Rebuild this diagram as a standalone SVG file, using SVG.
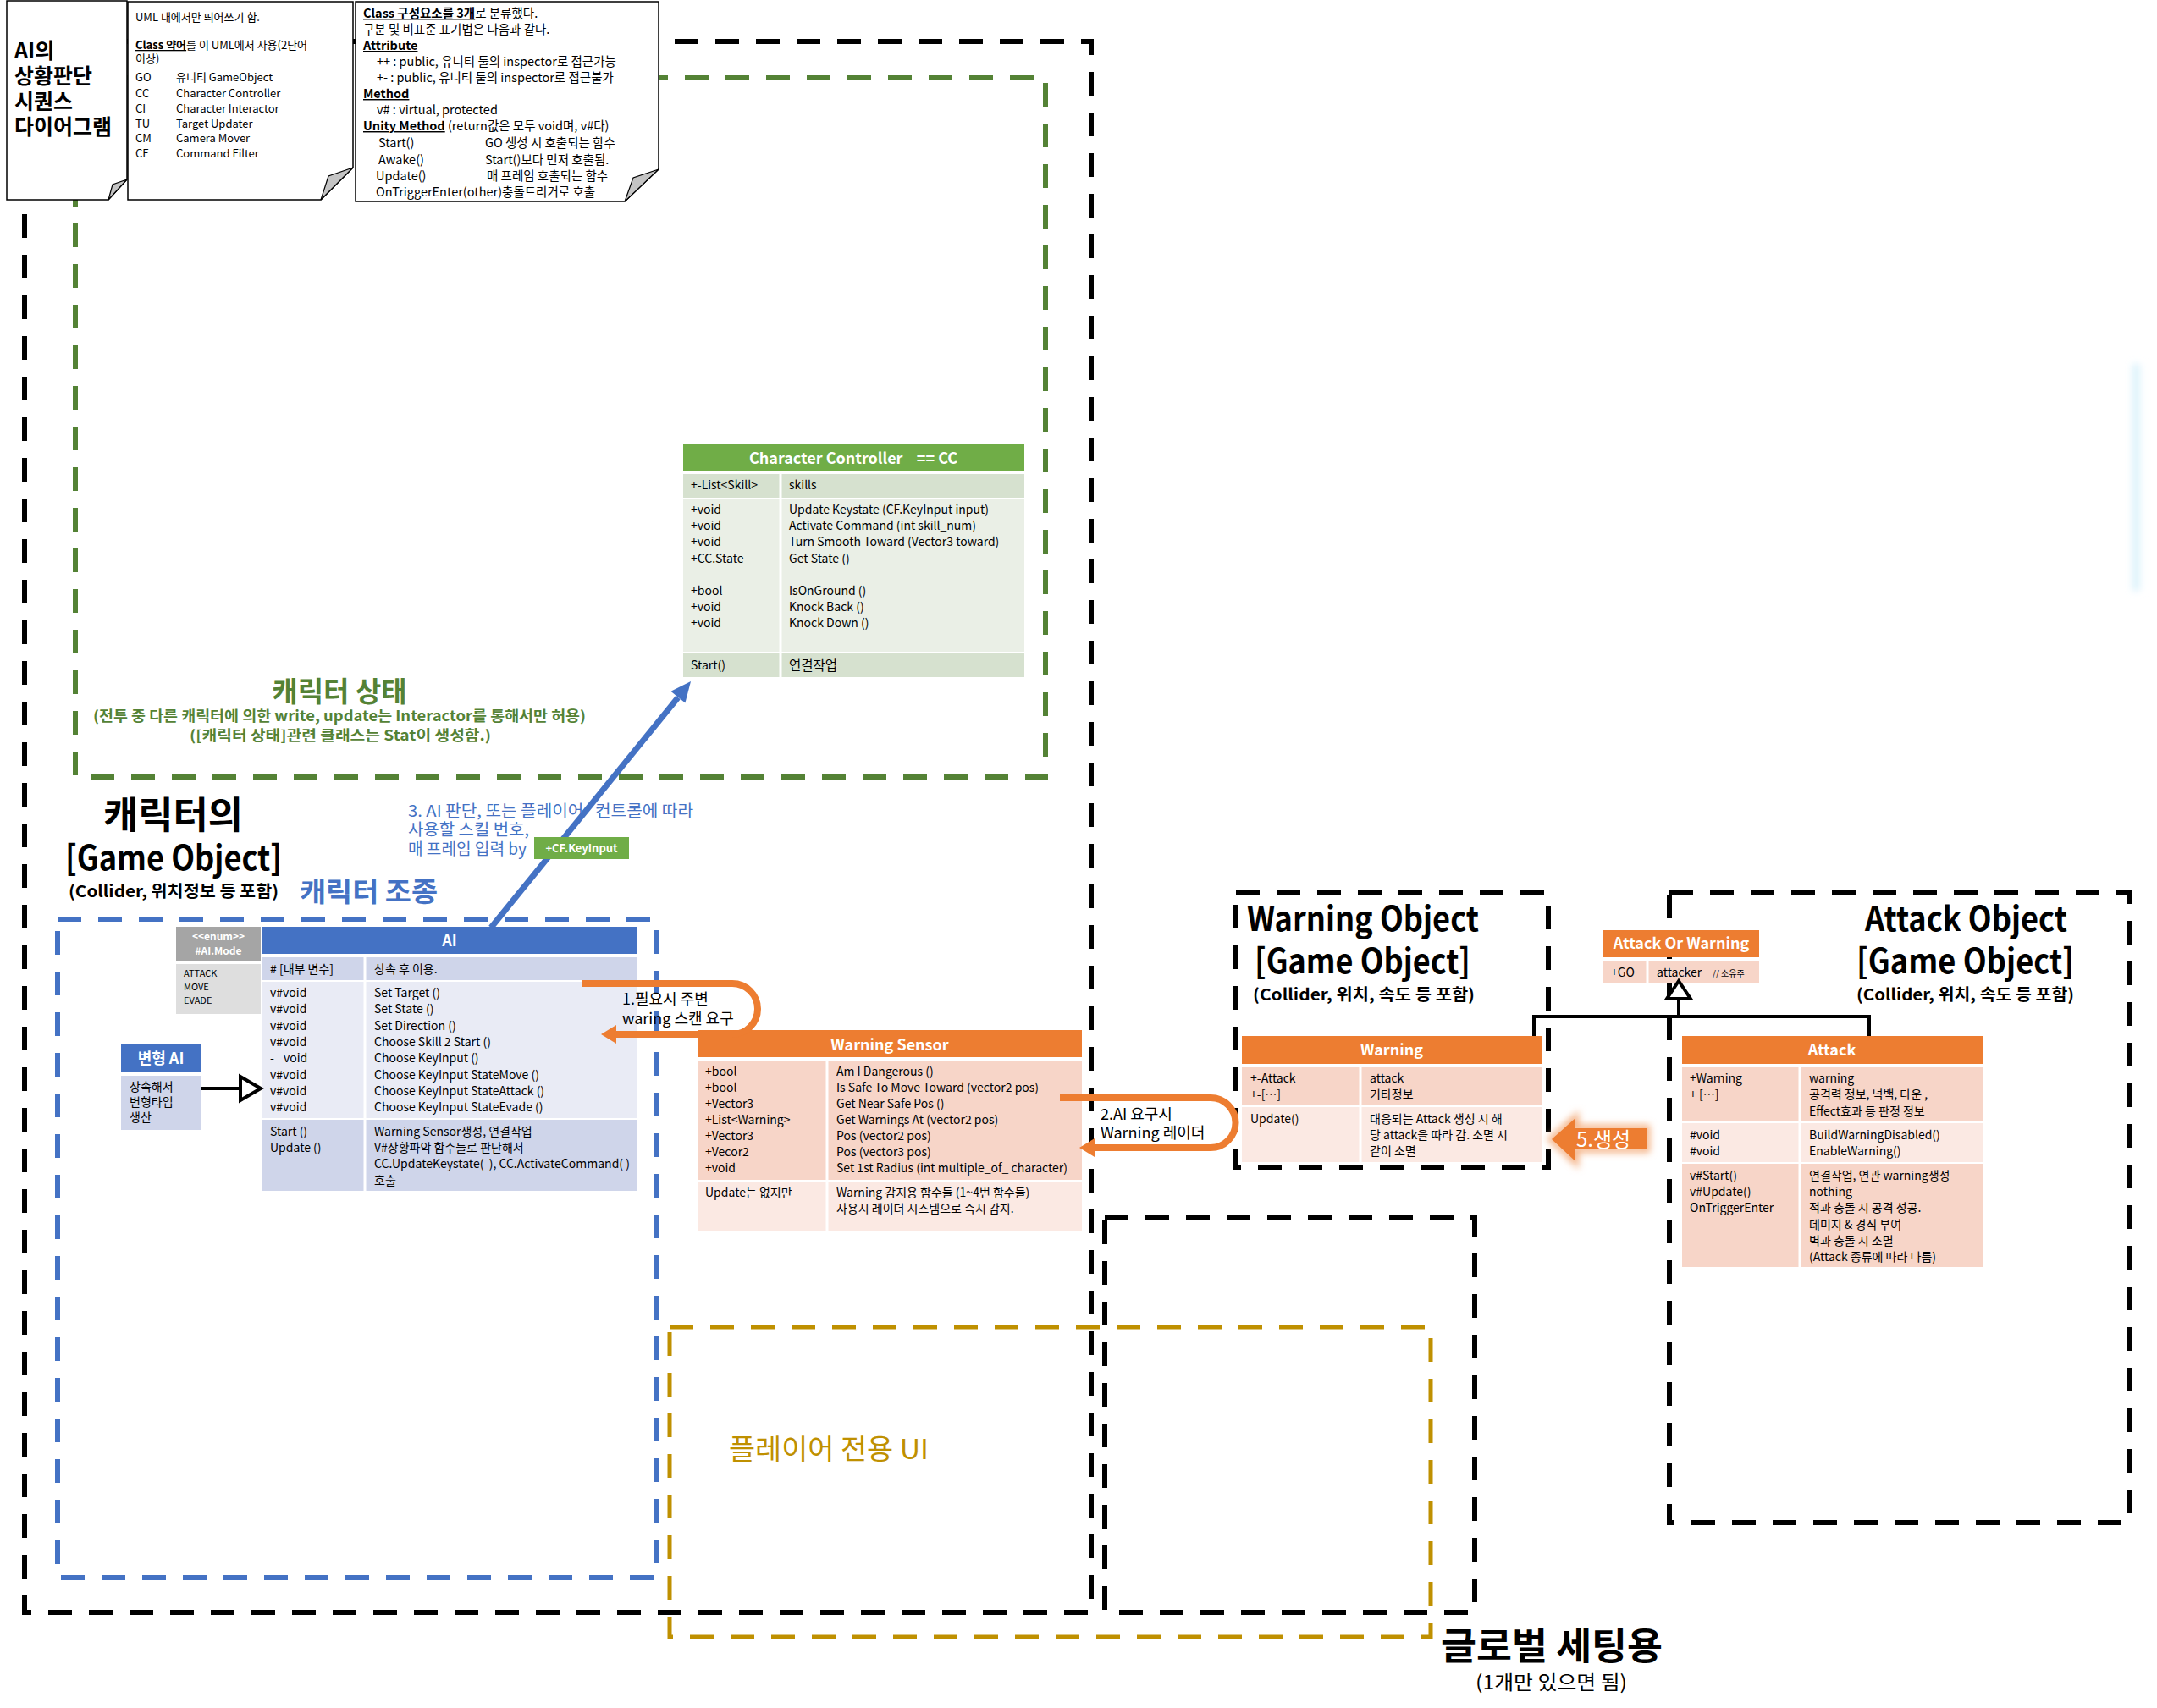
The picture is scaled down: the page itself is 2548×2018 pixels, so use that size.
<svg xmlns="http://www.w3.org/2000/svg" width="2548" height="2018" viewBox="0 0 2548 2018">
<defs>
<style>
text { font-family: "Noto Sans CJK KR", "Noto Sans", sans-serif; }
.t { font-size: 14px; fill: #000; }
.n { font-size: 13px; fill: #000; }
.n3 { font-size: 14.5px; fill: #000; }
.hd { font-size: 18px; font-weight: bold; fill: #fff; text-anchor: middle; }
.b { font-weight: bold; }
.u { text-decoration: underline; }
.dk { fill: none; stroke: #000; stroke-width: 6; stroke-dasharray: 28 20; }
.dg { fill: none; stroke: #548235; stroke-width: 6; stroke-dasharray: 28 20; }
.db { fill: none; stroke: #4472C4; stroke-width: 6; stroke-dasharray: 28 20; }
.dy { fill: none; stroke: #BF9000; stroke-width: 5; stroke-dasharray: 28 20; }
.note { fill: #fff; stroke: #000; stroke-width: 1.5; }
.flap { fill: #c4c4c4; stroke: #000; stroke-width: 1.2; }
.sep { stroke: #fff; stroke-width: 3; }
.ora { fill: #ED7D31; }
.pk1 { fill: #F7D5C8; }
.pk2 { fill: #FBE9E3; }
.grn { fill: #70AD47; }
.gr1 { fill: #D6E1CF; }
.gr2 { fill: #EAEFE6; }
.blu { fill: #4472C4; }
.bl1 { fill: #CFD5EA; }
.bl2 { fill: #E9EBF5; }
.loop { fill: none; stroke: #ED7D31; stroke-width: 8; }
.inh { fill: none; stroke: #000; stroke-width: 4; }
.tri { fill: #fff; stroke: #000; stroke-width: 4; }
</style>
<filter id="glow" x="-30%" y="-50%" width="160%" height="200%">
  <feGaussianBlur stdDeviation="4"/>
</filter>
<filter id="haze" x="-100%" y="-20%" width="300%" height="140%">
  <feGaussianBlur stdDeviation="4"/>
</filter>
<linearGradient id="sky" x1="0" y1="0" x2="1" y2="0">
  <stop offset="0" stop-color="#B9E6F8"/>
  <stop offset="1" stop-color="#ffffff" stop-opacity="0"/>
</linearGradient>
</defs>

<rect x="0" y="0" width="2548" height="2018" fill="#fff"/>

<!-- grouping frames -->
<g id="frames">
  <rect class="dg" x="89" y="92" width="1146" height="826"/>
  <rect class="dk" x="29" y="49" width="1260" height="1856"/>
  <rect class="db" x="68" y="1086" width="707" height="778"/>
  <rect class="dk" x="1305" y="1438" width="437" height="467"/>
  <rect class="dy" x="791" y="1568" width="899" height="366"/>
  <rect class="dk" x="1460" y="1055" width="369" height="324"/>
  <rect class="dk" x="1972" y="1055" width="543" height="744"/>
</g>

<!-- soft light-blue edge at right -->
<rect x="2520" y="430" width="14" height="268" fill="url(#sky)" filter="url(#haze)"/>

<!-- title note -->
<g id="note-title">
  <path class="note" d="M8,1 H150 V212 L128,236 H8 Z"/>
  <path class="flap" d="M128,236 L133,218 L150,212 Z"/>
  <text x="17" y="69" font-size="25" font-weight="bold">AI의</text>
  <text x="17" y="99" font-size="25" font-weight="bold">상황판단</text>
  <text x="17" y="129" font-size="25" font-weight="bold">시퀀스</text>
  <text x="17" y="159" font-size="25" font-weight="bold">다이어그램</text>
</g>

<!-- abbreviation note -->
<g id="note-abbr">
  <path class="note" d="M151,2 H417 V198 L379,236 H151 Z"/>
  <path class="flap" d="M379,236 L388,208 L417,198 Z"/>
  <text class="n" x="160" y="25">UML 내에서만 띄어쓰기 함.</text>
  <text class="n" x="160" y="58"><tspan class="b u">Class 약어</tspan>를 이 UML에서 사용(2단어</text>
  <text class="n" x="160" y="74">이상)</text>
  <text class="n" x="160" y="96">GO</text><text class="n" x="208" y="96">유니티 GameObject</text>
  <text class="n" x="160" y="115">CC</text><text class="n" x="208" y="115">Character Controller</text>
  <text class="n" x="160" y="133">CI</text><text class="n" x="208" y="133">Character Interactor</text>
  <text class="n" x="160" y="151">TU</text><text class="n" x="208" y="151">Target Updater</text>
  <text class="n" x="160" y="168">CM</text><text class="n" x="208" y="168">Camera Mover</text>
  <text class="n" x="160" y="186">CF</text><text class="n" x="208" y="186">Command Filter</text>
</g>

<!-- notation note -->
<g id="note-notation">
  <path class="note" d="M420,2 H778 V200 L738,238 H420 Z"/>
  <path class="flap" d="M738,238 L748,210 L778,200 Z"/>
  <text class="n3" x="429" y="21"><tspan class="b u">Class 구성요소를 3개</tspan>로 분류했다.</text>
  <text class="n3" x="429" y="40">구분 및 비표준 표기법은 다음과 같다.</text>
  <text class="n3 b u" x="429" y="59">Attribute</text>
  <text class="n3" x="445" y="78">++ : public, 유니티 툴의 inspector로 접근가능</text>
  <text class="n3" x="445" y="97">+- :  public, 유니티 툴의 inspector로 접근불가</text>
  <text class="n3 b u" x="429" y="116">Method</text>
  <text class="n3" x="445" y="135">v# : virtual, protected</text>
  <text class="n3" x="429" y="154"><tspan class="b u">Unity Method</tspan> (return값은 모두 void며, v#다)</text>
  <text class="n3" x="447" y="174">Start()</text><text class="n3" x="573" y="174">GO 생성 시 호출되는 함수</text>
  <text class="n3" x="447" y="194">Awake()</text><text class="n3" x="573" y="194">Start()보다 먼저 호출됨.</text>
  <text class="n3" x="444" y="213">Update()</text><text class="n3" x="575" y="213">매 프레임 호출되는 함수</text>
  <text class="n3" x="444" y="232">OnTriggerEnter(other)충돌트리거로 호출</text>
</g>

<!-- frame captions -->
<g id="caption-state">
  <text x="401" y="829" font-size="33" font-weight="bold" fill="#548235" text-anchor="middle">캐릭터 상태</text>
  <text x="110" y="852" font-size="17" font-weight="bold" fill="#548235" textLength="582" lengthAdjust="spacingAndGlyphs">(전투 중 다른 캐릭터에 의한 write, update는 Interactor를 통해서만 허용)</text>
  <text x="224" y="875" font-size="17" font-weight="bold" fill="#548235" textLength="356" lengthAdjust="spacingAndGlyphs">([캐릭터 상태]관련 클래스는 Stat이 생성함.)</text>
</g>
<g id="caption-character">
  <text x="122" y="979" font-size="44" font-weight="bold" textLength="165" lengthAdjust="spacingAndGlyphs">캐릭터의</text>
  <text x="77" y="1028" font-size="40" font-weight="bold" textLength="256" lengthAdjust="spacingAndGlyphs">[Game Object]</text>
  <text x="81" y="1060" font-size="19" font-weight="bold" textLength="248" lengthAdjust="spacingAndGlyphs">(Collider, 위치정보 등 포함)</text>
  <text x="354" y="1065" font-size="32" font-weight="bold" fill="#4472C4" textLength="163" lengthAdjust="spacingAndGlyphs">캐릭터 조종</text>
</g>
<g id="caption-ui">
  <text x="861" y="1724" font-size="33" fill="#BF9000" textLength="236" lengthAdjust="spacingAndGlyphs">플레이어 전용 UI</text>
</g>
<g id="caption-global">
  <text x="1702" y="1961" font-size="44" font-weight="bold" textLength="262" lengthAdjust="spacingAndGlyphs">글로벌 세팅용</text>
  <text x="1743" y="1996" font-size="23" textLength="179" lengthAdjust="spacingAndGlyphs">(1개만 있으면 됨)</text>
</g>
<g id="caption-warning-object">
  <text x="1473" y="1100" font-size="40" font-weight="bold" textLength="274" lengthAdjust="spacingAndGlyphs">Warning Object</text>
  <text x="1482" y="1150" font-size="40" font-weight="bold" textLength="255" lengthAdjust="spacingAndGlyphs">[Game Object]</text>
  <text x="1480" y="1182" font-size="19" font-weight="bold" textLength="262" lengthAdjust="spacingAndGlyphs">(Collider, 위치, 속도 등 포함)</text>
</g>
<g id="caption-attack-object">
  <text x="2203" y="1100" font-size="40" font-weight="bold" textLength="239" lengthAdjust="spacingAndGlyphs">Attack Object</text>
  <text x="2193" y="1150" font-size="40" font-weight="bold" textLength="257" lengthAdjust="spacingAndGlyphs">[Game Object]</text>
  <text x="2193" y="1182" font-size="19" font-weight="bold" textLength="257" lengthAdjust="spacingAndGlyphs">(Collider, 위치, 속도 등 포함)</text>
</g>

<!-- Character Controller -->
<g id="character-controller">
  <rect class="grn" x="807" y="525" width="403" height="32"/>
  <rect class="gr1" x="807" y="560" width="403" height="28"/>
  <rect class="gr2" x="807" y="590" width="403" height="180"/>
  <rect class="gr1" x="807" y="772" width="403" height="28"/>
  <line class="sep" x1="922" y1="560" x2="922" y2="800"/>
  <text class="hd" x="1008" y="548">Character Controller&#160;&#160;&#160; == CC</text>
  <text class="t" x="816" y="578">+-List&lt;Skill&gt;</text>
  <text class="t" x="932" y="578">skills</text>
  <text class="t" x="816" y="607">+void</text><text class="t" x="932" y="607">Update Keystate (CF.KeyInput input)</text>
  <text class="t" x="816" y="626">+void</text><text class="t" x="932" y="626">Activate Command (int skill_num)</text>
  <text class="t" x="816" y="645">+void</text><text class="t" x="932" y="645">Turn Smooth Toward (Vector3 toward)</text>
  <text class="t" x="816" y="665">+CC.State</text><text class="t" x="932" y="665">Get State ()</text>
  <text class="t" x="816" y="703">+bool</text><text class="t" x="932" y="703">IsOnGround ()</text>
  <text class="t" x="816" y="722">+void</text><text class="t" x="932" y="722">Knock Back ()</text>
  <text class="t" x="816" y="741">+void</text><text class="t" x="932" y="741">Knock Down ()</text>
  <text class="t" x="816" y="791">Start()</text><text x="932" y="792" font-size="15.5">연결작업</text>
</g>

<!-- AI mode enum -->
<g id="ai-mode">
  <rect x="208" y="1095" width="100" height="40" fill="#A5A5A5"/>
  <rect x="208" y="1139" width="100" height="59" fill="#DEDEDE"/>
  <text x="258" y="1111" font-size="12" font-weight="bold" fill="#fff" text-anchor="middle">&lt;&lt;enum&gt;&gt;</text>
  <text x="258" y="1128" font-size="12" font-weight="bold" fill="#fff" text-anchor="middle">#AI.Mode</text>
  <text x="217" y="1154" font-size="11">ATTACK</text>
  <text x="217" y="1170" font-size="11">MOVE</text>
  <text x="217" y="1186" font-size="11">EVADE</text>
</g>

<!-- AI -->
<g id="ai">
  <rect class="blu" x="310" y="1095" width="442" height="32"/>
  <rect class="bl1" x="310" y="1131" width="442" height="27"/>
  <rect class="bl2" x="310" y="1160" width="442" height="161"/>
  <rect class="bl1" x="310" y="1323" width="442" height="84"/>
  <line class="sep" x1="431" y1="1131" x2="431" y2="1407"/>
  <text class="hd" x="531" y="1118">AI</text>
  <text class="t" x="319" y="1150"># [내부 변수]</text><text class="t" x="442" y="1150">상속 후 이용.</text>
  <text class="t" x="319" y="1178">v#void</text><text class="t" x="442" y="1178">Set Target ()</text>
  <text class="t" x="319" y="1197">v#void</text><text class="t" x="442" y="1197">Set State ()</text>
  <text class="t" x="319" y="1217">v#void</text><text class="t" x="442" y="1217">Set Direction ()</text>
  <text class="t" x="319" y="1236">v#void</text><text class="t" x="442" y="1236">Choose Skill 2 Start ()</text>
  <text class="t" x="319" y="1255">-</text><text class="t" x="335" y="1255">void</text><text class="t" x="442" y="1255">Choose KeyInput ()</text>
  <text class="t" x="319" y="1275">v#void</text><text class="t" x="442" y="1275">Choose KeyInput StateMove ()</text>
  <text class="t" x="319" y="1294">v#void</text><text class="t" x="442" y="1294">Choose KeyInput StateAttack ()</text>
  <text class="t" x="319" y="1313">v#void</text><text class="t" x="442" y="1313">Choose KeyInput StateEvade ()</text>
  <text class="t" x="319" y="1342">Start ()</text><text class="t" x="442" y="1342">Warning Sensor생성, 연결작업</text>
  <text class="t" x="319" y="1361">Update ()</text><text class="t" x="442" y="1361">V#상황파악 함수들로 판단해서</text>
  <text class="t" x="442" y="1380">CC.UpdateKeystate(&#160; ), CC.ActivateCommand( )</text>
  <text class="t" x="442" y="1400">호출</text>
</g>

<!-- derived AI -->
<g id="ai-variant">
  <rect class="blu" x="143" y="1234" width="94" height="32"/>
  <rect class="bl1" x="143" y="1271" width="94" height="64"/>
  <text class="hd" x="190" y="1257" font-size="17">변형 AI</text>
  <text class="t" x="153" y="1289">상속해서</text>
  <text class="t" x="153" y="1307">변형타입</text>
  <text class="t" x="153" y="1325">생산</text>
</g>

<!-- Warning Sensor -->
<g id="warning-sensor">
  <rect class="ora" x="824" y="1217" width="454" height="32"/>
  <rect class="pk1" x="824" y="1253" width="454" height="141"/>
  <rect class="pk2" x="824" y="1396" width="454" height="59"/>
  <line class="sep" x1="977" y1="1253" x2="977" y2="1455"/>
  <text class="hd" x="1051" y="1241">Warning Sensor</text>
  <text class="t" x="833" y="1271">+bool</text><text class="t" x="988" y="1271">Am I Dangerous ()</text>
  <text class="t" x="833" y="1290">+bool</text><text class="t" x="988" y="1290">Is Safe To Move Toward (vector2 pos)</text>
  <text class="t" x="833" y="1309">+Vector3</text><text class="t" x="988" y="1309">Get Near Safe Pos ()</text>
  <text class="t" x="833" y="1328">+List&lt;Warning&gt;</text><text class="t" x="988" y="1328">Get Warnings At (vector2 pos)</text>
  <text class="t" x="833" y="1347">+Vector3</text><text class="t" x="988" y="1347">Pos (vector2 pos)</text>
  <text class="t" x="833" y="1366">+Vecor2</text><text class="t" x="988" y="1366">Pos (vector3 pos)</text>
  <text class="t" x="833" y="1385">+void</text><text class="t" x="988" y="1385">Set 1st Radius (int multiple_of_ character)</text>
  <text class="t" x="833" y="1414">Update는 없지만</text><text class="t" x="988" y="1414">Warning 감지용 함수들 (1~4번 함수들)</text>
  <text class="t" x="988" y="1433">사용시 레이더 시스템으로 즉시 감지.</text>
</g>

<!-- Warning -->
<g id="warning">
  <rect class="ora" x="1467" y="1224" width="354" height="33"/>
  <rect class="pk1" x="1467" y="1261" width="354" height="45"/>
  <rect class="pk2" x="1467" y="1308" width="354" height="65"/>
  <line class="sep" x1="1607" y1="1261" x2="1607" y2="1373"/>
  <text class="hd" x="1644" y="1247">Warning</text>
  <text class="t" x="1477" y="1279">+-Attack</text><text class="t" x="1618" y="1279">attack</text>
  <text class="t" x="1477" y="1298">+-[…]</text><text class="t" x="1618" y="1298">기타정보</text>
  <text class="t" x="1477" y="1327">Update()</text><text class="t" x="1618" y="1327">대응되는 Attack 생성 시 해</text>
  <text class="t" x="1618" y="1346">당 attack을 따라 감. 소멸 시</text>
  <text class="t" x="1618" y="1365">같이 소멸</text>
</g>

<!-- Attack Or Warning -->
<g id="attack-or-warning">
  <rect class="ora" x="1894" y="1099" width="184" height="32"/>
  <rect class="pk1" x="1894" y="1136" width="184" height="26"/>
  <line class="sep" x1="1946" y1="1136" x2="1946" y2="1162"/>
  <text class="hd" x="1986" y="1121" font-size="17">Attack Or Warning</text>
  <text class="t" x="1903" y="1154">+GO</text>
  <text class="t" x="1957" y="1154">attacker</text>
  <text x="2023" y="1154" font-size="10">// 소유주</text>
</g>

<!-- Attack -->
<g id="attack">
  <rect class="ora" x="1987" y="1224" width="355" height="33"/>
  <rect class="pk1" x="1987" y="1261" width="355" height="64"/>
  <rect class="pk2" x="1987" y="1327" width="355" height="46"/>
  <rect class="pk1" x="1987" y="1375" width="355" height="122"/>
  <line class="sep" x1="2126" y1="1261" x2="2126" y2="1497"/>
  <text class="hd" x="2164" y="1247">Attack</text>
  <text class="t" x="1996" y="1279">+Warning</text><text class="t" x="2137" y="1279">warning</text>
  <text class="t" x="1996" y="1298">+ […]</text><text class="t" x="2137" y="1298">공격력 정보, 넉백, 다운 ,</text>
  <text class="t" x="2137" y="1318">Effect효과 등 판정 정보</text>
  <text class="t" x="1996" y="1346">#void</text><text class="t" x="2137" y="1346">BuildWarningDisabled()</text>
  <text class="t" x="1996" y="1365">#void</text><text class="t" x="2137" y="1365">EnableWarning()</text>
  <text class="t" x="1996" y="1394">v#Start()</text><text class="t" x="2137" y="1394">연결작업, 연관 warning생성</text>
  <text class="t" x="1996" y="1413">v#Update()</text><text class="t" x="2137" y="1413">nothing</text>
  <text class="t" x="1996" y="1432">OnTriggerEnter</text><text class="t" x="2137" y="1432">적과 충돌 시 공격 성공.</text>
  <text class="t" x="2137" y="1452">데미지 &amp; 경직 부여</text>
  <text class="t" x="2137" y="1471">벽과 충돌 시 소멸</text>
  <text class="t" x="2137" y="1490">(Attack 종류에 따라 다름)</text>
</g>

<!-- connectors -->
<g id="connectors">
  <!-- AI drives the Character Controller -->
  <line x1="580" y1="1096" x2="801" y2="824" stroke="#4472C4" stroke-width="7"/>
  <polygon points="816,805 809.4,830.5 792.4,816.7" fill="#4472C4"/>
  <text x="482" y="965" font-size="19" fill="#4472C4" textLength="337" lengthAdjust="spacingAndGlyphs">3. AI 판단, 또는 플레이어&#160;&#160; 컨트롤에 따라</text>
  <text x="482" y="987" font-size="19" fill="#4472C4" textLength="143" lengthAdjust="spacingAndGlyphs">사용할 스킬 번호,</text>
  <text x="482" y="1010" font-size="19" fill="#4472C4" textLength="140" lengthAdjust="spacingAndGlyphs">매 프레임 입력 by</text>
  <rect class="grn" x="631" y="989" width="112" height="26"/>
  <text x="687" y="1007" font-size="13" font-weight="bold" fill="#fff" text-anchor="middle">+CF.KeyInput</text>

  <!-- inheritance: variant AI -> AI -->
  <line class="inh" x1="237" y1="1286" x2="284" y2="1286"/>
  <polygon class="tri" points="308,1286 284,1272 284,1300"/>

  <!-- step 1 loop -->
  <path class="loop" d="M688,1162 H865 A30,30 0 0 1 865,1222 H726"/>
  <polygon class="ora" points="710,1222 728,1211 728,1233"/>
  <text x="735" y="1187" font-size="18">1.필요시 주변</text>
  <text x="735" y="1210" font-size="18">waring 스캔 요구</text>

  <!-- step 2 loop -->
  <path class="loop" d="M1252,1297 H1430 A29.5,29.5 0 0 1 1430,1356 H1291"/>
  <polygon class="ora" points="1275,1356 1293,1345 1293,1367"/>
  <text x="1300" y="1323" font-size="18">2.AI 요구시</text>
  <text x="1300" y="1345" font-size="18">Warning 레이더</text>

  <!-- step 5 block arrow -->
  <polygon points="1833,1346 1861,1321 1861,1333 1945,1333 1945,1358 1861,1358 1861,1372" fill="none" stroke="#F4B183" stroke-width="8" filter="url(#glow)"/>
  <polygon class="ora" points="1833,1346 1861,1321 1861,1333 1945,1333 1945,1358 1861,1358 1861,1372"/>
  <text x="1862" y="1355" font-size="24" fill="#fff">5.생성</text>

  <!-- inheritance: Warning / Attack -> Attack Or Warning -->
  <polyline class="inh" points="1812,1224 1812,1201 2208,1201 2208,1224"/>
  <line class="inh" x1="1983" y1="1201" x2="1983" y2="1180"/>
  <polygon class="tri" points="1983,1159 1969,1180 1997,1180"/>
</g>
</svg>
